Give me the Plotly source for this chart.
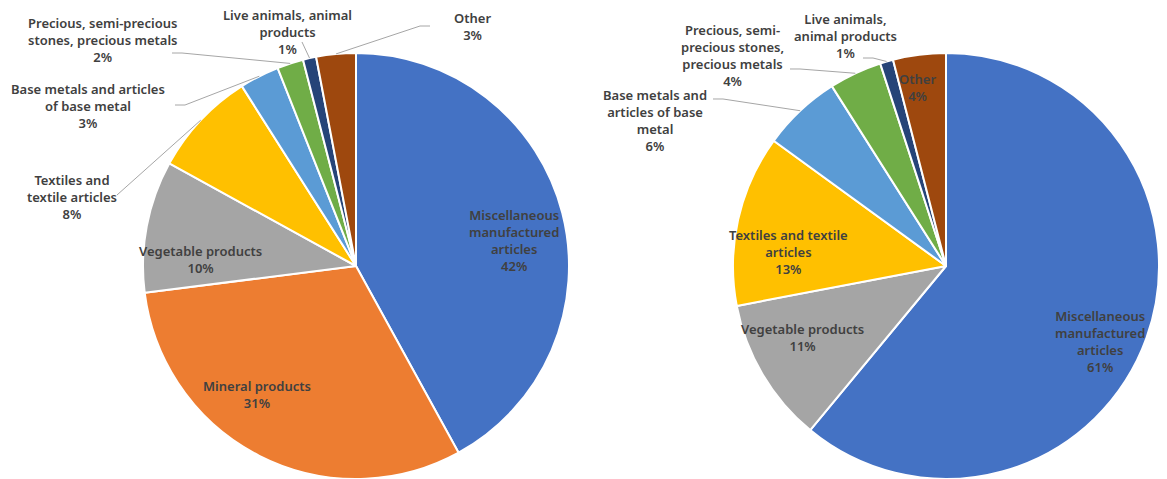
import math
import plotly.graph_objects as go

# Export composition by product group (shares in %)
left_categories = [
    "Miscellaneous manufactured articles", "Mineral products", "Vegetable products",
    "Textiles and textile articles", "Base metals and articles of base metal",
    "Precious, semi-precious stones, precious metals", "Live animals, animal products", "Other",
]
left_values = [42, 31, 10, 8, 3, 2, 1, 3]
left_text = [
    "Miscellaneous<br>manufactured<br>articles<br>42%",
    "Mineral products<br>31%",
    "Vegetable products<br>10%",
    "Textiles and<br>textile articles<br>8%",
    "Base metals and articles<br>of base metal<br>3%",
    "Precious, semi-precious<br>stones, precious metals<br>2%",
    "Live animals, animal<br>products<br>1%",
    "Other<br>3%",
]

right_categories = [
    "Miscellaneous manufactured articles", "Vegetable products",
    "Textiles and textile articles", "Base metals and articles of base metal",
    "Precious, semi-precious stones, precious metals", "Live animals, animal products", "Other",
]
right_values = [61, 11, 13, 6, 4, 1, 4]
right_text = [
    "Miscellaneous<br>manufactured<br>articles<br>61%",
    "Vegetable products<br>11%",
    "Textiles and textile<br>articles<br>13%",
    "Base metals and<br>articles of base<br>metal<br>6%",
    "Precious, semi-<br>precious stones,<br>precious metals<br>4%",
    "Live animals,<br>animal products<br>1%",
    "Other<br>4%",
]

palette = {
    "Miscellaneous manufactured articles": "#4472C4",
    "Mineral products": "#ED7D31",
    "Vegetable products": "#A5A5A5",
    "Textiles and textile articles": "#FFC000",
    "Base metals and articles of base metal": "#5B9BD5",
    "Precious, semi-precious stones, precious metals": "#70AD47",
    "Live animals, animal products": "#264478",
    "Other": "#9E480E",
}

W, H = 1167, 479
R = 213
CY = 266
LEFT_CX, RIGHT_CX = 356, 946

# label layout in pixels: (x, y, leader) where leader is None or (x_start, x_bend) for outside labels
left_layout = [
    (514, 240, None),
    (257, 394, None),
    (200, 259, None),
    (72, 197, (117, 117)),
    (88, 106, (175, 185)),
    (103, 40, (172, 182)),
    (287, 32, (302, 302)),
    (472, 26, (430, 420)),
]
left_leader_y = [None, None, None, 195, 105, 53, 42, 26]

right_layout = [
    (1100, 341, None),
    (802, 337, None),
    (788, 252, None),
    (655, 120, (713, 723)),
    (732, 56, (790, 800)),
    (846, 36, (863, 873)),
    (917, 87, None),
]
right_leader_y = [None, None, None, 99, 69, 58, None]


def domain(cx):
    return dict(
        x=[(cx - R) / W, (cx + R) / W],
        y=[(H - CY - R) / H, (H - CY + R) / H],
    )


def edge_point(cx, values, i):
    total = sum(values)
    mid = (sum(values[:i]) + values[i] / 2) / total * 2 * math.pi
    return cx + R * math.sin(mid), CY - R * math.cos(mid)


fig = go.Figure()
for cats, vals, cx in [(left_categories, left_values, LEFT_CX), (right_categories, right_values, RIGHT_CX)]:
    fig.add_trace(go.Pie(
        labels=cats, values=vals, sort=False, direction="clockwise", rotation=0,
        marker=dict(colors=[palette[c] for c in cats], line=dict(color="white", width=2)),
        textinfo="none", hoverinfo="label+percent", showlegend=False,
        domain=domain(cx),
    ))

font = dict(family="Noto Sans, sans-serif", size=13, color="#404040", weight=600)
annotations = []
shapes = []
for texts, vals, layout_, leader_y, cx in [
    (left_text, left_values, left_layout, left_leader_y, LEFT_CX),
    (right_text, right_values, right_layout, right_leader_y, RIGHT_CX),
]:
    for i, (t, (x, y, leader)) in enumerate(zip(texts, layout_)):
        annotations.append(dict(
            text=t, x=x / W, y=1 - y / H, xref="paper", yref="paper",
            xanchor="center", yanchor="middle", align="center", showarrow=False, font=font,
        ))
        if leader is not None:
            ex, ey = edge_point(cx, vals, i)
            ly = leader_y[i]
            pts = [(leader[0], ly), (leader[1], ly), (ex, ey)]
            path = "M " + " L ".join(f"{px / W:.5f},{1 - py / H:.5f}" for px, py in pts)
            shapes.append(dict(type="path", path=path, xref="paper", yref="paper",
                               line=dict(color="#A6A6A6", width=1)))

fig.update_layout(
    width=W, height=H, margin=dict(l=0, r=0, t=0, b=0),
    paper_bgcolor="white", plot_bgcolor="white",
    annotations=annotations, shapes=shapes,
)
fig.write_html("out.html")
